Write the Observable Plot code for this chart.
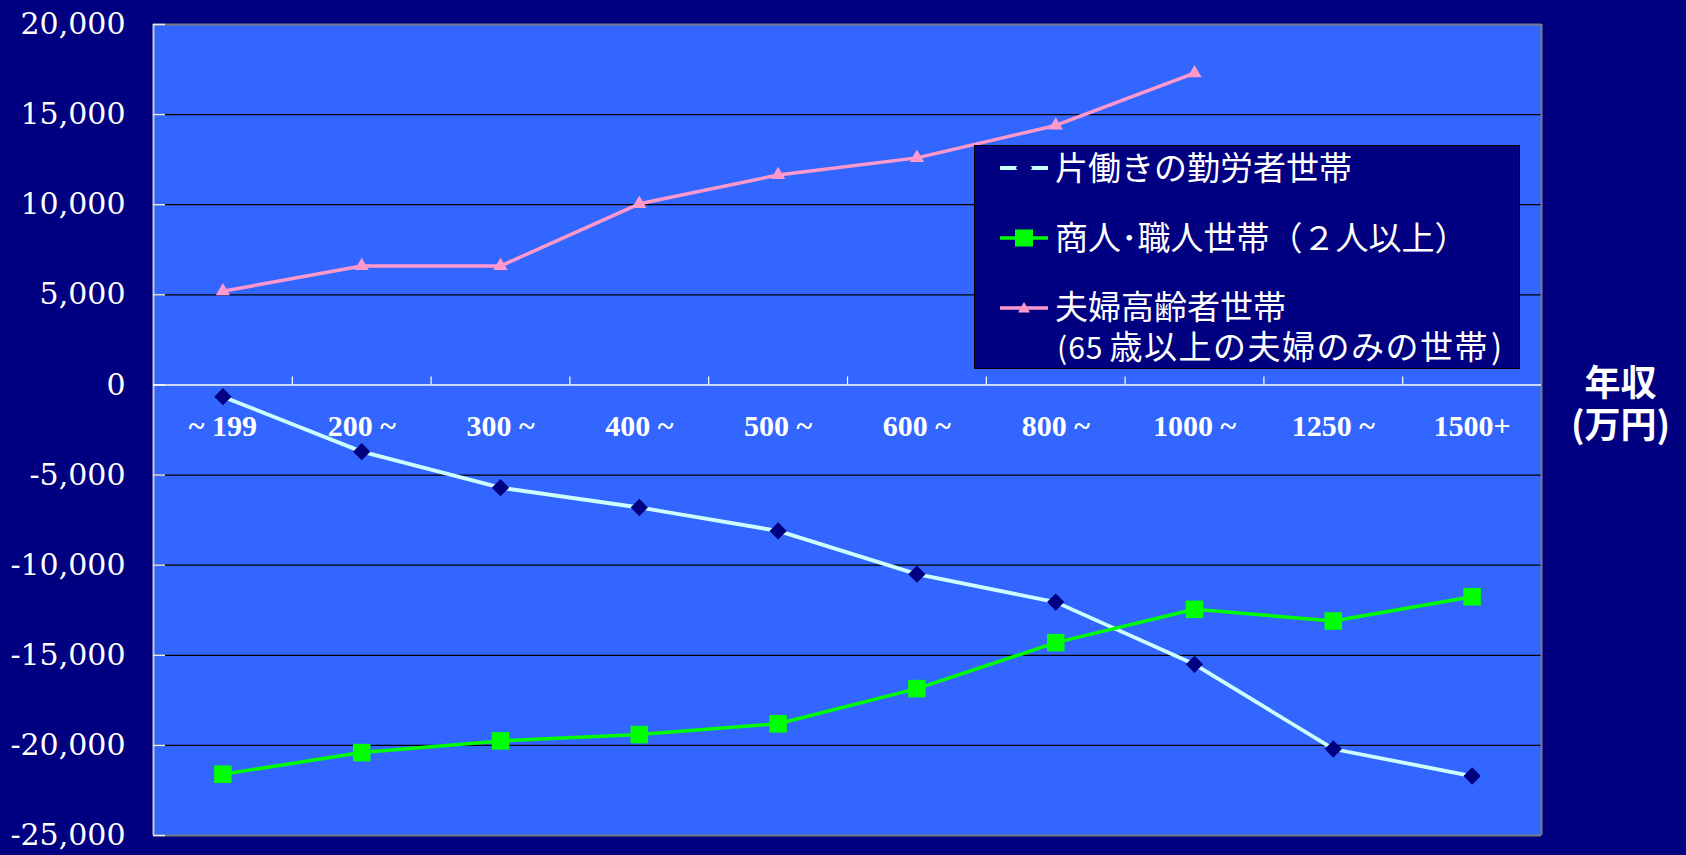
<!DOCTYPE html>
<html><head><meta charset="utf-8">
<script src="https://cdn.jsdelivr.net/npm/d3@7"></script>
<script src="https://cdn.jsdelivr.net/npm/@observablehq/plot@0.6"></script>
<style>
html,body{margin:0;padding:0;background:#000080;}
#wrap{position:relative;width:1686px;height:855px;overflow:hidden;}
#wrap svg{display:block;}
#legend{position:absolute;left:974px;top:145px;width:544px;height:222px;background:#000080;border:1px solid #000;font-family:"Noto Sans CJK JP";font-size:33px;color:#fff;}
.row{position:absolute;left:80px;line-height:36px;white-space:nowrap;}
.sym{position:absolute;left:25px;}
</style></head>
<body><div id="wrap"></div>
<script>
// ---- data ----
const categories = ["~ 199","200 ~","300 ~","400 ~","500 ~","600 ~","800 ~","1000 ~","1250 ~","1500+"];
const singleEarner = [-650, -3700, -5700, -6800, -8100, -10500, -12050, -15500, -20200, -21700];
const merchant     = [-21600, -20400, -19750, -19400, -18800, -16850, -14300, -12450, -13100, -11750];
const elderly      = [5200, 6600, 6600, 10050, 11650, 12600, 14400, 17300];
const yTicks = [20000, 15000, 10000, 5000, 0, -5000, -10000, -15000, -20000, -25000];
const seriesNames = ["片働きの勤労者世帯", "商人･職人世帯（２人以上）", "夫婦高齢者世帯"];
const seriesNote = ["(65", "歳以上の夫婦のみの世帯", ")"];
const unitLabel = ["年収", "(万円)"];

const n = categories.length;
const xi = (d, i) => i + 0.5;
const fmt = v => d3.format(",")(v).replace("\u2212", "-");
const gridVals = yTicks.filter(v => v !== 0 && v !== yTicks[0] && v !== yTicks[yTicks.length - 1]);

const chart = Plot.plot({
  width: 1686, height: 855,
  marginLeft: 153, marginRight: 145, marginTop: 24, marginBottom: 20,
  style: {background: "#000080", color: "white", overflow: "visible"},
  x: {domain: [0, n], axis: null},
  y: {domain: [yTicks[yTicks.length - 1], yTicks[0]], axis: null},
  marks: [
    Plot.frame({fill: "#3366FF", stroke: null}),
    Plot.ruleY(gridVals, {stroke: "#000", strokeWidth: 1.2}),
    Plot.ruleY([yTicks[0], yTicks[yTicks.length - 1]], {stroke: "#7a7a86", strokeWidth: 2}),
    Plot.ruleX([n], {stroke: "#7a7a86", strokeWidth: 2}),
    Plot.ruleX([0], {stroke: "#c8c8c8", strokeWidth: 2}),
    Plot.ruleY(yTicks, {x1: () => 0, x2: () => 0, insetRight: -12, stroke: "#e8e8e8", strokeWidth: 1.5}),
    Plot.ruleY([0], {stroke: "#ffffff", strokeWidth: 1.5}),
    Plot.ruleX(d3.range(1, n), {y1: () => 0, y2: () => 0, insetTop: -8, stroke: "#ffffff", strokeWidth: 1.2}),
    Plot.text(yTicks, {x: () => 0, y: d => d, text: fmt, textAnchor: "end", dx: -28,
      fill: "white", fontFamily: "DejaVu Serif", fontSize: 30}),
    Plot.text(categories, {x: xi, y: () => 0, dy: 41, text: d => d, fill: "white",
      fontFamily: "Liberation Serif", fontWeight: "bold", fontSize: 30}),
    Plot.text([unitLabel[0]], {x: () => n, y: () => 0, dx: 79, dy: 0, text: d => d, fill: "white",
      fontFamily: "Noto Sans CJK JP", fontWeight: "bold", fontSize: 36}),
    Plot.text([unitLabel[1]], {x: () => n, y: () => 0, dx: 79, dy: 42, text: d => d, fill: "white",
      fontFamily: "Noto Sans CJK JP", fontWeight: "bold", fontSize: 36}),
    // series 1: single-earner households
    Plot.line(singleEarner, {x: xi, y: d => d, stroke: "#CCFFFF", strokeWidth: 3.8}),
    Plot.dot(singleEarner, {x: xi, y: d => d, symbol: "diamond2", r: 7.8, fill: "#000080", stroke: null}),
    // series 2: merchants & craftsmen
    Plot.line(merchant, {x: xi, y: d => d, stroke: "#00FF00", strokeWidth: 3.5}),
    Plot.dot(merchant, {x: xi, y: d => d, symbol: "square", r: 9.9, fill: "#00FF00", stroke: null}),
    // series 3: elderly couples
    Plot.line(elderly, {x: xi, y: d => d, stroke: "#FF99CC", strokeWidth: 3.5}),
    Plot.dot(elderly, {x: xi, y: d => d, symbol: "triangle", r: 5.3, fill: "#FF99CC", stroke: null})
  ]
});

const wrap = document.getElementById("wrap");
wrap.appendChild(chart);

// ---- legend ----
const legend = document.createElement("div");
legend.id = "legend";
const symbols = [
  `<svg class="sym" width="48" height="20" style="top:12px"><line x1="0" x2="48" y1="10" y2="10" stroke="#CCFFFF" stroke-width="3.8"/><polygon points="24,1 32.5,10 24,19 15.5,10" fill="#000080"/></svg>`,
  `<svg class="sym" width="48" height="20" style="top:82px"><line x1="0" x2="48" y1="10" y2="10" stroke="#00FF00" stroke-width="3.5"/><rect x="15" y="1.5" width="18" height="17" fill="#00FF00"/></svg>`,
  `<svg class="sym" width="48" height="20" style="top:152px"><line x1="0" x2="48" y1="10" y2="10" stroke="#FF99CC" stroke-width="3.5"/><polygon points="24,4 30,14.5 18,14.5" fill="#FF99CC"/></svg>`
];
legend.innerHTML = symbols.join("") +
  `<div class="row" style="top:2px">${seriesNames[0]}</div>` +
  `<div class="row" style="top:72px">${seriesNames[1]}</div>` +
  `<div class="row" style="top:141px">${seriesNames[2]}</div>` +
  `<div class="row" style="top:181px"><span style="font-size:30px;letter-spacing:1px;margin-left:2px">${seriesNote[0]}</span><span style="letter-spacing:1.5px;margin-left:6px">${seriesNote[1]}</span><span style="margin-left:2px">${seriesNote[2]}</span></div>`;
wrap.appendChild(legend);
</script>
</body></html>
